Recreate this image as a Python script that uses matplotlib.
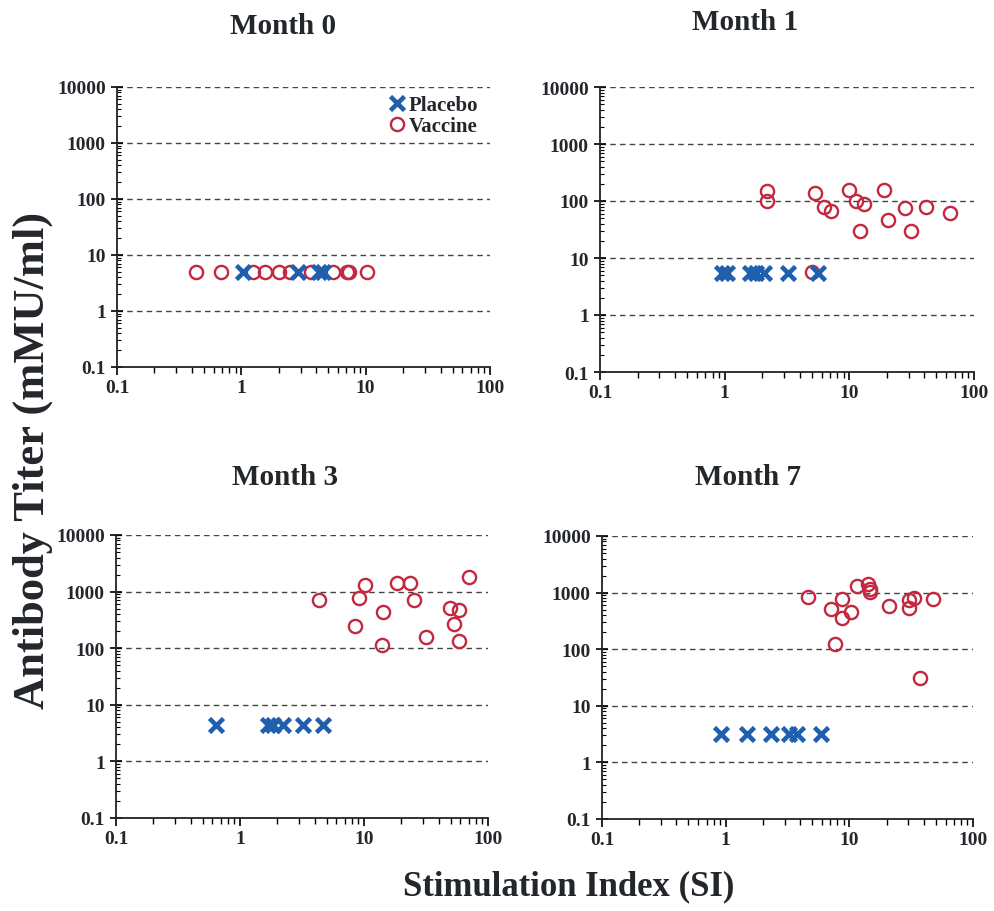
import matplotlib.pyplot as plt
import numpy as np
from matplotlib.ticker import FixedLocator, NullFormatter, LogLocator

# Data
month_titles = ["Month 0", "Month 1", "Month 3", "Month 7"]

m0_placebo_si = [1.04, 2.85, 4.24, 4.5]
m0_placebo_titer = [5, 5, 5, 5]
m0_vaccine_si = [0.43, 0.68, 1.25, 1.54, 2.02, 2.48, 3.63, 5.48, 7.05, 7.35, 10.3]
m0_vaccine_titer = [5] * 11

m1_placebo_si = [0.95, 1.05, 1.6, 1.8, 2.05, 3.2, 5.6]
m1_placebo_titer = [5.5] * 7
m1_vaccine_si = [2.2, 2.2, 5.26, 6.25, 7.15, 9.9, 11.35, 13.0, 12.2, 18.8, 20.6, 28.1, 31, 41.4, 64.5, 5.0]
m1_vaccine_titer = [152, 100, 136, 80, 67, 158, 100, 87, 30, 156, 46, 74, 30, 80, 62, 5.6]

m3_placebo_si = [0.64, 1.69, 1.83, 2.23, 3.23, 4.69]
m3_placebo_titer = [4.4] * 6
m3_vaccine_si = [4.32, 9.14, 10.1, 8.43, 14.3, 13.9, 18.3, 23.7, 25.4, 31.5, 49.4, 58.4, 53, 58, 70.3]
m3_vaccine_titer = [713, 783, 1312, 248, 444, 113, 1403, 1403, 703, 158, 515, 474, 272, 135, 1815]

m7_placebo_si = [0.92, 1.48, 2.31, 3.25, 3.8, 5.94]
m7_placebo_titer = [3.2] * 6
m7_vaccine_si = [4.63, 7.06, 8.78, 8.69, 10.4, 7.66, 11.6, 14.2, 14.6, 14.7, 20.8, 30.4, 30.6, 33.3, 47.5, 37.3]
m7_vaccine_titer = [838, 506, 762, 360, 454, 124, 1295, 1444, 1146, 1030, 571, 534, 731, 815, 783, 30.6]

x_ticks = [0.1, 1, 10, 100]
x_tick_labels = ["0.1", "1", "10", "100"]
y_ticks = [0.1, 1, 10, 100, 1000, 10000]
y_tick_labels = ["0.1", "1", "10", "100", "1000", "10000"]

PLACEBO_COLOR = "#1f5fae"
VACCINE_COLOR = "#c3283e"
TEXT_COLOR = "#23272b"

plt.rcParams["font.family"] = ["Liberation Serif", "DejaVu Serif"]
plt.rcParams["font.weight"] = "bold"

panels = [
    (month_titles[0], m0_placebo_si, m0_placebo_titer, m0_vaccine_si, m0_vaccine_titer),
    (month_titles[1], m1_placebo_si, m1_placebo_titer, m1_vaccine_si, m1_vaccine_titer),
    (month_titles[2], m3_placebo_si, m3_placebo_titer, m3_vaccine_si, m3_vaccine_titer),
    (month_titles[3], m7_placebo_si, m7_placebo_titer, m7_vaccine_si, m7_vaccine_titer),
]

W, H = 994, 912
# axes boxes in pixels: left, right, top, bottom
boxes = [(117, 490, 88, 368), (600, 974, 88, 373), (116, 488, 536, 819), (602, 973, 537, 820)]
title_pos = [(283, 26), (745, 23), (285, 478), (748, 478)]

fig = plt.figure(figsize=(W / 100, H / 100), dpi=100)

for i, (title, p_x, p_y, v_x, v_y) in enumerate(panels):
    l, r, t, b = boxes[i]
    ax = fig.add_axes([l / W, 1 - b / H, (r - l) / W, (b - t) / H])
    ax.set_xscale("log")
    ax.set_yscale("log")
    ax.set_xlim(0.1, 100)
    ax.set_ylim(0.1, 10000)

    # dashed grid at the decades
    for yv in y_ticks[1:]:
        ax.axhline(yv, color="#444444", linestyle=(0, (4, 3)), linewidth=1.0, zorder=1)

    ax.plot(v_x, v_y, linestyle="None", marker="o", markersize=9.5, markerfacecolor="none",
            markeredgecolor=VACCINE_COLOR, markeredgewidth=1.7, label="Vaccine", zorder=3)
    ax.plot(p_x, p_y, linestyle="None", marker="x", markersize=9.5, color=PLACEBO_COLOR,
            markeredgewidth=3.3, label="Placebo", zorder=4)

    ax.spines["top"].set_visible(False)
    ax.spines["right"].set_visible(False)
    for s in ("left", "bottom"):
        ax.spines[s].set_linewidth(1.3)
        ax.spines[s].set_color("#222222")

    ax.xaxis.set_major_locator(FixedLocator(x_ticks))
    ax.set_xticklabels(x_tick_labels, fontsize=14, fontweight="bold", color=TEXT_COLOR)
    ax.xaxis.set_minor_locator(LogLocator(base=10, subs=np.arange(2, 10)))
    ax.xaxis.set_minor_formatter(NullFormatter())
    ax.yaxis.set_major_locator(FixedLocator(y_ticks))
    ax.set_yticklabels(y_tick_labels, fontsize=14, fontweight="bold", color=TEXT_COLOR)
    ax.yaxis.set_minor_locator(LogLocator(base=10, subs=np.arange(2, 10)))
    ax.yaxis.set_minor_formatter(NullFormatter())

    ax.tick_params(axis="x", which="major", direction="out", length=6, width=1.2, pad=3)
    ax.tick_params(axis="x", which="minor", direction="out", length=4, width=1.0)
    ax.tick_params(axis="y", which="major", direction="inout", length=8, width=1.2, pad=4)
    ax.tick_params(axis="y", which="minor", direction="in", length=3, width=0.8)

    tx, ty = title_pos[i]
    fig.text(tx / W, 1 - ty / H, title, ha="center", va="center", fontsize=21,
             fontweight="bold", color=TEXT_COLOR)

    if i == 0:
        handles, labels = ax.get_legend_handles_labels()
        ax.legend(handles[::-1], labels[::-1], loc="upper right", frameon=False,
                  prop={"size": 15, "weight": "bold"}, handletextpad=0.05,
                  handlelength=1.0, labelspacing=0.05, borderaxespad=0.0,
                  bbox_to_anchor=(0.99, 1.0), labelcolor=TEXT_COLOR)

fig.text(33 / W, 1 - 460 / H, "Antibody Titer (mMU/ml)", rotation=90, ha="center", va="center",
         fontsize=32, fontweight="bold", color=TEXT_COLOR)
fig.text(569 / W, 1 - 887 / H, "Stimulation Index (SI)", ha="center", va="center",
         fontsize=25, fontweight="bold", color=TEXT_COLOR)

plt.savefig("out.png", dpi=100)
